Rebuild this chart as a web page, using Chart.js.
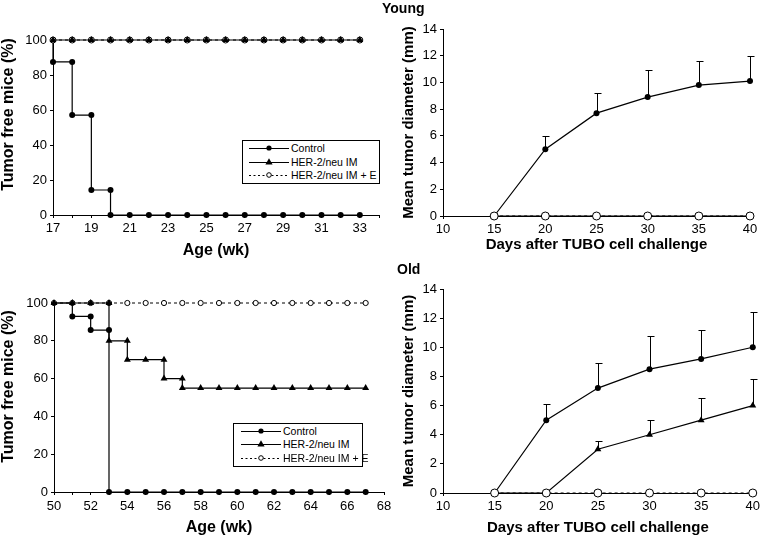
<!DOCTYPE html>
<html><head><meta charset="utf-8">
<script src="https://cdn.jsdelivr.net/npm/chart.js@4.4.0/dist/chart.umd.min.js"></script>
<style>
body{margin:0;background:#fff;width:763px;height:536px;overflow:hidden;position:relative;font-family:'Liberation Sans',Arial,sans-serif;color:#000}
canvas{position:absolute}
.lbl{position:absolute;font-weight:bold;font-size:14px;line-height:14px}
.legend{position:absolute;border:1px solid #000;background:#fff;font-size:10.5px;box-sizing:border-box}
.legend .row{position:absolute;left:0;height:12px;line-height:12px;white-space:nowrap}
.legend svg{position:absolute;top:0}
.legend span{position:absolute;top:0}
</style></head>
<body>
<canvas id="tl" width="400" height="262" style="left:0;top:0"></canvas>
<canvas id="tr" width="373" height="262" style="left:390px;top:0"></canvas>
<canvas id="bl" width="400" height="274" style="left:0;top:262px"></canvas>
<canvas id="br" width="373" height="274" style="left:390px;top:262px"></canvas>
<div class="lbl" style="left:382px;top:1px">Young</div>
<div class="lbl" style="left:397px;top:262px">Old</div>
<div id="legTL" class="legend" style="left:242px;top:140px;width:138px;height:44px"></div>
<div id="legBL" class="legend" style="left:233px;top:423px;width:130px;height:44px"></div>
<script>
// ---------- DATA ----------
const seriesNames = ['Control', 'HER-2/neu IM', 'HER-2/neu IM + E'];

// Young, tumor-free survival (Kaplan-Meier steps)
const youngWeeks = [17,18,19,20,21,22,23,24,25,26,27,28,29,30,31,32,33];
const youngControlX = [17,17,18,18,19,19,20,20,21,22,23,24,25,26,27,28,29,30,31,32,33];
const youngControlY = [100,87.5,87.5,57.1,57.1,14.3,14.3,0,0,0,0,0,0,0,0,0,0,0,0,0,0];
const youngImY   = [100,100,100,100,100,100,100,100,100,100,100,100,100,100,100,100,100];
const youngImEY  = [100,100,100,100,100,100,100,100,100,100,100,100,100,100,100,100,100];

// Old, tumor-free survival
const oldWeeks = [50,51,52,53,54,55,56,57,58,59,60,61,62,63,64,65,66,67];
const oldControlX = [50,51,51,52,52,53,53,54,55,56,57,58,59,60,61,62,63,64,65,66,67];
const oldControlY = [100,100,92.9,92.9,85.7,85.7,0,0,0,0,0,0,0,0,0,0,0,0,0,0,0];
const oldImX = [50,51,52,53,53,54,54,55,56,56,57,57,58,59,60,61,62,63,64,65,66,67];
const oldImY = [100,100,100,100,80,80,70,70,70,60,60,55,55,55,55,55,55,55,55,55,55,55];
const oldImEY = [100,100,100,100,100,100,100,100,100,100,100,100,100,100,100,100,100,100];

// Tumor growth (mean diameter, mm) with upper error bars
const days = [15,20,25,30,35,40];
const youngControlSize = [0,5.0,7.7,8.9,9.8,10.1];
const youngControlErr  = [null,6.0,9.2,10.9,11.6,12.0];
const youngImSize  = [0,0,0,0,0,0];
const youngImESize = [0,0,0,0,0,0];
const oldControlSize = [0,5.0,7.2,8.5,9.2,10.0];
const oldControlErr  = [null,6.1,8.9,10.8,11.2,12.4];
const oldImSize  = [0,0,3.0,4.0,5.0,6.0];
const oldImErr   = [null,null,3.6,5.0,6.5,7.8];
const oldImESize = [0,0,0,0,0,0];

// axis tick settings
const youngWeekRange = [17,34];
const oldWeekRange = [50,68];
const dayRange = [10,40];
const survivalRange = [0,100];
const sizeRange = [0,14];

// ---------- RENDERING ----------
Chart.defaults.font.family = "'Liberation Sans', Arial, sans-serif";
Chart.defaults.color = '#000';

const pts = (xs, ys) => xs.map((x,i) => ({x, y: ys[i]}));

const yTitlePlugin = {
  id: 'ytitle',
  afterDraw(chart, args, opts) {
    if (!opts || !opts.text) return;
    const {ctx, chartArea} = chart;
    ctx.save();
    ctx.font = opts.font;
    ctx.fillStyle = '#000';
    ctx.textAlign = 'center';
    ctx.textBaseline = 'middle';
    ctx.translate(opts.x, (chartArea.top + chartArea.bottom) / 2 + (opts.dy || 0));
    ctx.rotate(-Math.PI / 2);
    ctx.fillText(opts.text, 0, 0);
    ctx.restore();
  }
};
const errPlugin = {
  id: 'errbars',
  beforeDatasetsDraw(chart) {
    const {ctx, scales: {x, y}} = chart;
    ctx.save();
    ctx.strokeStyle = '#000';
    ctx.lineWidth = 1;
    chart.data.datasets.forEach(ds => {
      if (!ds.errTop) return;
      ds.data.forEach((p, i) => {
        const t = ds.errTop[i];
        if (t == null) return;
        const px = Math.round(x.getPixelForValue(p.x)) + 0.5;
        const py = y.getPixelForValue(p.y);
        const pt = Math.round(y.getPixelForValue(t)) + 0.5;
        ctx.beginPath();
        ctx.moveTo(px, py); ctx.lineTo(px, pt);
        ctx.moveTo(px - 3, pt); ctx.lineTo(px + 4, pt);
        ctx.stroke();
      });
    });
    ctx.restore();
  }
};
Chart.register(yTitlePlugin, errPlugin);

function controlDs(data, r, hideFirst, order, errTop) {
  return {label: seriesNames[0], data, order, errTop,
    borderColor:'#000', borderWidth:1.2, backgroundColor:'#000',
    pointStyle:'circle', pointBackgroundColor:'#000', pointBorderColor:'#000', pointBorderWidth:0,
    pointRadius: ctx => ctx.dataIndex < hideFirst ? 0 : r, clip:false, tension:0};
}
function imDs(data, r, order, errTop, hideFirst) {
  return {label: seriesNames[1], data, order, errTop,
    borderColor:'#000', borderWidth:1.2, backgroundColor:'#000',
    pointStyle:'triangle', pointBackgroundColor:'#000', pointBorderColor:'#000', pointBorderWidth:0,
    pointRadius: ctx => ctx.dataIndex < (hideFirst||0) ? 0 : r, clip:false, tension:0};
}
function imEDs(data, r, order) {
  return {label: seriesNames[2], data, order,
    borderColor:'#000', borderWidth:1, borderDash:[3,3], backgroundColor:'#fff',
    pointStyle:'circle', pointBackgroundColor:'#fff', pointBorderColor:'#000', pointBorderWidth:1,
    pointRadius:r, clip:false, tension:0};
}

function makeChart(id, datasets, cfg) {
  return new Chart(document.getElementById(id), {
    type:'line',
    data:{datasets},
    options:{
      responsive:false, animation:false, devicePixelRatio:1,
      layout:{padding:{top:cfg.padTop, right:cfg.padRight, left:0, bottom:0}},
      plugins:{legend:{display:false}, tooltip:{enabled:false},
        ytitle:{text:cfg.yTitle, x:cfg.yTitleX, dy:cfg.yTitleDy, font:cfg.yTitleFont}},
      scales:{
        x:{type:'linear', min:cfg.xRange[0], max:cfg.xRange[1],
          ticks:{stepSize:cfg.xStep, autoSkip:false, maxRotation:0, font:{size:13}, color:'#000',
                 padding:cfg.xTickPad, callback:cfg.xCb},
          grid:{drawOnChartArea:false, tickLength:3, color:'#000'},
          border:{color:'#000', width:1},
          title:{display:true, text:cfg.xTitle, font:{size:cfg.xTitleSize, weight:'bold', lineHeight:1.1},
                 padding:{top:0, bottom:cfg.xTitlePad}},
          afterFit: s => { s.height = cfg.xHeight; }},
        y:{type:'linear', min:cfg.yRange[0], max:cfg.yRange[1],
          ticks:{stepSize:cfg.yStep, font:{size:13}, color:'#000', padding:3},
          grid:{drawOnChartArea:false, tickLength:3, color:'#000'},
          border:{color:'#000', width:1},
          title:{display:false},
          afterFit: s => { s.width = cfg.yWidth; }}
      }
    }
  });
}

// Top-left: young survival
makeChart('tl', [
  imDs(pts(youngWeeks, youngImY), 4, 0),
  imEDs(pts(youngWeeks, youngImEY), 3, 1),
  controlDs(pts(youngControlX, youngControlY), 3, 1, 2)
], {padTop:40, padRight:21, xRange:youngWeekRange, xStep:1, xCb:v => (v % 2 === 1 ? v : ''),
    xTickPad:3, xTitle:'Age (wk)', xTitleSize:16, xTitlePad:3, xHeight:47,
    yRange:survivalRange, yStep:20, yWidth:53,
    yTitle:'Tumor free mice (%)', yTitleX:9, yTitleDy:-13, yTitleFont:"bold 16px 'Liberation Sans', Arial, sans-serif"});

// Top-right: young tumor growth
makeChart('tr', [
  imEDs(pts(days, youngImESize), 4, 0),
  controlDs(pts(days, youngControlSize), 3, 0, 1, youngControlErr),
  imDs(pts(days, youngImSize), 4, 2)
], {padTop:29, padRight:13, xRange:dayRange, xStep:5, xCb:v => v,
    xTickPad:3, xTitle:'Days after TUBO cell challenge', xTitleSize:15, xTitlePad:9, xHeight:46,
    yRange:sizeRange, yStep:2, yWidth:53,
    yTitle:'Mean tumor diameter (mm)', yTitleX:19, yTitleDy:0, yTitleFont:"bold 15px 'Liberation Sans', Arial, sans-serif"});

// Bottom-left: old survival
makeChart('bl', [
  controlDs(pts(oldControlX, oldControlY), 3, 2, 0),
  imDs(pts(oldImX, oldImY), 4, 1),
  imEDs(pts(oldWeeks, oldImEY), 2.6, 2)
], {padTop:41, padRight:16, xRange:oldWeekRange, xStep:1, xCb:v => (v % 2 === 0 ? v : ''),
    xTickPad:4, xTitle:'Age (wk)', xTitleSize:16, xTitlePad:0, xHeight:44,
    yRange:survivalRange, yStep:20, yWidth:54,
    yTitle:'Tumor free mice (%)', yTitleX:9, yTitleDy:-11, yTitleFont:"bold 16px 'Liberation Sans', Arial, sans-serif"});

// Bottom-right: old tumor growth
makeChart('br', [
  imEDs(pts(days, oldImESize), 4, 0),
  controlDs(pts(days, oldControlSize), 3, 0, 1, oldControlErr),
  imDs(pts(days, oldImSize), 4, 2, oldImErr)
], {padTop:27, padRight:8, xRange:dayRange, xStep:5, xCb:v => v,
    xTickPad:3, xTitle:'Days after TUBO cell challenge', xTitleSize:15, xTitlePad:0, xHeight:43,
    yRange:sizeRange, yStep:2, yWidth:53,
    yTitle:'Mean tumor diameter (mm)', yTitleX:19, yTitleDy:0, yTitleFont:"bold 15px 'Liberation Sans', Arial, sans-serif"});

// Legends (HTML boxes with SVG line samples)
function buildLegend(id, rowsY, lineX0, lineX1, textX) {
  const el = document.getElementById(id);
  const mid = (lineX0 + lineX1) / 2;
  const markers = [
    `<circle cx="${mid}" cy="6" r="2.6" fill="#000"/>`,
    `<polygon points="${mid},2.3 ${mid-3.6},8.6 ${mid+3.6},8.6" fill="#000"/>`,
    `<circle cx="${mid}" cy="6" r="2.3" fill="#fff" stroke="#000" stroke-width="1"/>`
  ];
  seriesNames.forEach((name, i) => {
    const row = document.createElement('div');
    row.className = 'row';
    row.style.top = (rowsY[i] - 6) + 'px';
    const dash = i === 2 ? 'stroke-dasharray="2,2.5"' : '';
    row.innerHTML = `<svg width="${lineX1 + 2}" height="12" style="left:0"><line x1="${lineX0}" y1="6.5" x2="${lineX1}" y2="6.5" stroke="#000" stroke-width="1" ${dash}/>${markers[i]}</svg><span style="left:${textX}px">${name}</span>`;
    el.appendChild(row);
  });
}
buildLegend('legTL', [7, 20.5, 34], 6, 46, 48);
buildLegend('legBL', [7, 20, 33.5], 7, 47, 49);
</script>
</body></html>
